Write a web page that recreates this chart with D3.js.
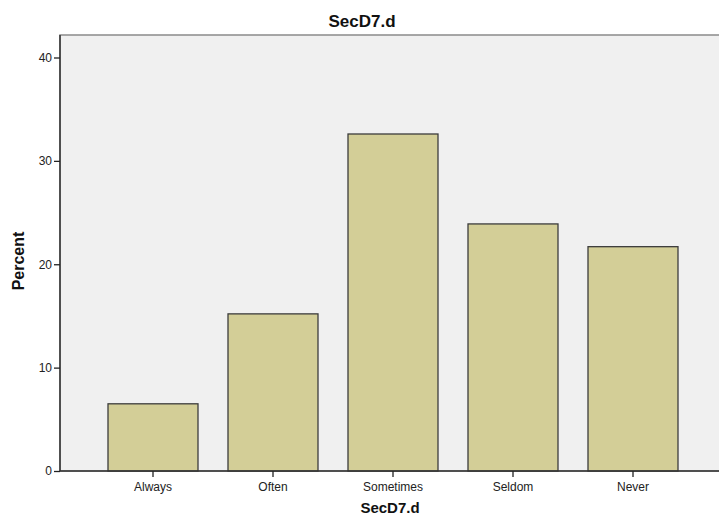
<!DOCTYPE html>
<html><head><meta charset="utf-8">
<script src="https://cdn.jsdelivr.net/npm/d3@7"></script>
<style>body{margin:0;background:#fff}svg{display:block;font-family:Arial,"Liberation Sans",sans-serif}</style>
</head><body>
<script>
const categories = ["Always","Often","Sometimes","Seldom","Never"];
const percents = [6.5, 15.2, 32.6, 23.9, 21.7];
const yTicks = [0,10,20,30,40];
const chartTitle = "SecD7.d";
const xTitle = "SecD7.d";
const yTitle = "Percent";

const W = 719, H = 515;
const svg = d3.select("body").append("svg").attr("width", W).attr("height", H);

const pLeft = 60, pTop = 35, pRight = 722, pBottom = 471;
const y = d3.scaleLinear().domain([0, 40]).range([pBottom, 57.5]);
const x = d3.scaleBand().domain(categories).range([93, 693]).paddingInner(0.25).paddingOuter(0.125);

// plot background
svg.append("rect").attr("x", pLeft).attr("y", pTop).attr("width", pRight - pLeft).attr("height", pBottom - pTop)
  .attr("fill", "#f0f0f0").attr("stroke", "#8a8a8a").attr("stroke-width", 1.5);

// bars
svg.selectAll("rect.bar").data(categories).join("rect").attr("class", "bar")
  .attr("x", d => x(d)).attr("width", x.bandwidth())
  .attr("y", (d, i) => y(percents[i])).attr("height", (d, i) => pBottom - y(percents[i]))
  .attr("fill", "#d3ce97").attr("stroke", "#3c3c3c").attr("stroke-width", 1.3);

// y axis
const yAxis = svg.append("g").attr("transform", `translate(${pLeft},0)`)
  .call(d3.axisLeft(y).tickValues(yTicks).tickSize(6).tickPadding(2).tickFormat(d3.format("d")));
yAxis.select(".domain").attr("d", `M0,${pTop}V${pBottom}`).attr("stroke", "#333").attr("stroke-width", 1.5);
yAxis.selectAll(".tick line").attr("stroke", "#222").attr("stroke-width", 1.3);
yAxis.selectAll(".tick text").attr("font-size", 12).attr("fill", "#222").attr("font-family", "Arial, 'Liberation Sans', sans-serif");

// x axis
const xAxis = svg.append("g").attr("transform", `translate(0,${pBottom})`)
  .call(d3.axisBottom(x).tickSize(6).tickPadding(5));
xAxis.select(".domain").attr("d", `M${pLeft},0H${pRight}`).attr("stroke", "#333").attr("stroke-width", 1.5);
xAxis.selectAll(".tick line").attr("stroke", "#222").attr("stroke-width", 1.3);
xAxis.selectAll(".tick text").attr("font-size", 12).attr("fill", "#222").attr("font-family", "Arial, 'Liberation Sans', sans-serif");

// titles
svg.append("text").attr("x", 362).attr("y", 27).attr("text-anchor", "middle")
  .attr("font-size", 17).attr("font-weight", "bold").attr("fill", "#111").text(chartTitle);
svg.append("text").attr("x", 390).attr("y", 513).attr("text-anchor", "middle")
  .attr("font-size", 15).attr("font-weight", "bold").attr("fill", "#111").text(xTitle);
svg.append("text").attr("transform", "translate(24,261) rotate(-90)").attr("text-anchor", "middle")
  .attr("font-size", 16).attr("font-weight", "bold").attr("fill", "#111").text(yTitle);
</script>
</body></html>
